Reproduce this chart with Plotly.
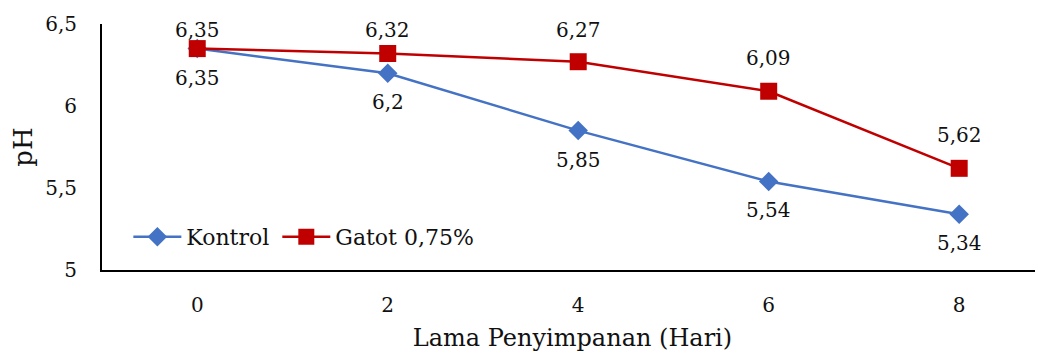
import plotly.graph_objects as go

days = [0, 2, 4, 6, 8]
kontrol = [6.35, 6.2, 5.85, 5.54, 5.34]
gatot = [6.35, 6.32, 6.27, 6.09, 5.62]
y_ticks = [5, 5.5, 6, 6.5]
y_tick_labels = ["5", "5,5", "6", "6,5"]

FONT = "DejaVu Serif"
TXT = "#111111"
Y_MIN, Y_MAX = 5, 6.5
PLOT_H = 246  # plot area height in px

def fmt(v):
    s = ("%.2f" % v).rstrip("0").rstrip(".")
    return s.replace(".", ",")

px = (Y_MAX - Y_MIN) / PLOT_H  # data units per pixel

fig = go.Figure()
fig.add_trace(go.Scatter(
    x=days, y=kontrol, name="Kontrol", mode="lines+markers",
    line=dict(color="#4472C4", width=2.5),
    marker=dict(symbol="diamond", size=15, color="#4472C4"),
    cliponaxis=False, legend="legend",
))
fig.add_trace(go.Scatter(
    x=days, y=gatot, name="Gatot 0,75%", mode="lines+markers",
    line=dict(color="#C00000", width=2.5),
    marker=dict(symbol="square", size=17, color="#C00000"),
    cliponaxis=False, legend="legend2",
))

for d, v in zip(days, kontrol):
    fig.add_annotation(x=d, y=v - 29 * px, text=fmt(v), showarrow=False,
                       font=dict(family=FONT, size=20, color=TXT))
for d, v in zip(days, gatot):
    # labels above points, kept inside the plot area like the original
    fig.add_annotation(x=d, y=min(v + 33 * px, Y_MAX - 6 * px), text=fmt(v), showarrow=False,
                       font=dict(family=FONT, size=20, color=TXT))

leg_common = dict(orientation="h", yanchor="middle", xanchor="left", y=0.134,
                  bgcolor="rgba(0,0,0,0)", font=dict(family=FONT, size=22, color=TXT),
                  itemwidth=48)

fig.update_layout(
    width=1043, height=351,
    margin=dict(l=94, r=8, t=16, b=89, autoexpand=False),
    plot_bgcolor="white", paper_bgcolor="white",
    font=dict(family=FONT, size=20, color=TXT),
    separators=",.",
    showlegend=True,
    legend=dict(x=0.028, **leg_common),
    legend2=dict(x=0.1863, **leg_common),
)
fig.update_xaxes(
    range=[-1, 8.88], tickvals=days, ticktext=[str(d) for d in days],
    showgrid=False, zeroline=False, showline=True, linecolor="black", linewidth=2,
    ticks="", automargin=False, ticklabelstandoff=16,
    tickfont=dict(family=FONT, size=20, color=TXT),
    title=dict(text="Lama Penyimpanan (Hari)", font=dict(family=FONT, size=24, color=TXT), standoff=13),
)
fig.update_yaxes(
    range=[Y_MIN, Y_MAX], tickvals=y_ticks, ticktext=y_tick_labels,
    showgrid=False, zeroline=False, showline=True, linecolor="black", linewidth=2,
    ticks="", automargin=False, ticklabelstandoff=19,
    tickfont=dict(family=FONT, size=20, color=TXT),
    title=dict(text="pH", font=dict(family=FONT, size=26, color=TXT), standoff=12),
)

fig.write_html("out.html")
